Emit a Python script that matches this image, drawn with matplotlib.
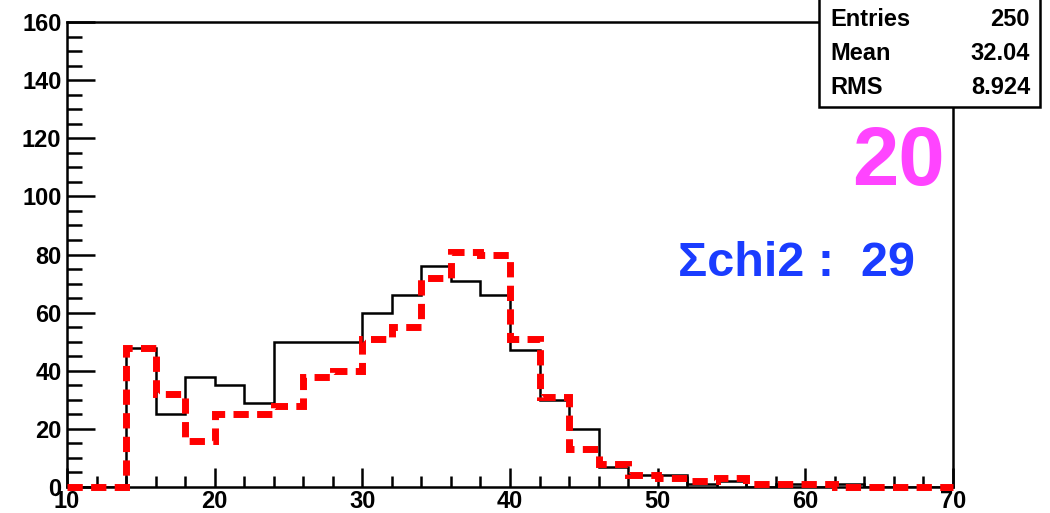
import numpy as np
import matplotlib
matplotlib.use("Agg")
import matplotlib.pyplot as plt
from matplotlib.patches import Rectangle
from matplotlib.ticker import MultipleLocator

plt.rcParams['font.family'] = ['Liberation Sans', 'DejaVu Sans']

# histogram bins (width 2 from 10 to 70)
edges = np.arange(10, 72, 2)
black_counts = [0, 0, 48, 25, 38, 35, 29, 50, 50, 50, 60, 66, 76, 71, 66,
                47, 30, 20, 7, 4, 4, 1, 2, 0, 1, 0, 1, 0, 0, 0]
red_counts = [0, 0, 48, 32, 16, 25, 25, 28, 38, 40, 51, 55, 72, 81, 80,
              51, 31, 13, 8, 4, 3, 2, 3, 1, 1, 1, 0, 0, 0, 0]

stats_labels = ["Entries", "Mean", "RMS"]
stats_values = ["250", "32.04", "8.924"]
big_number = "20"
chi2_text = "Σchi2 :  29"

fig = plt.figure(figsize=(10.5, 5.13), dpi=100)
ax = fig.add_axes([67 / 1050, 26 / 513, 886 / 1050, 465 / 513])

ax.stairs(black_counts, edges, baseline=None, color="black", lw=1.8, zorder=2)
ax.stairs(red_counts, edges, baseline=None, color="#ff0000", lw=5,
          linestyle=(0, (2.2, 1.2)), zorder=3, clip_on=False)

ax.set_xlim(10, 70)
ax.set_ylim(0, 160)
ax.xaxis.set_major_locator(MultipleLocator(10))
ax.xaxis.set_minor_locator(MultipleLocator(2))
ax.yaxis.set_major_locator(MultipleLocator(20))
ax.yaxis.set_minor_locator(MultipleLocator(5))
ax.tick_params(axis="y", which="major", direction="in", length=20, width=1.8, pad=4)
ax.tick_params(axis="y", which="minor", direction="in", length=11, width=1.8)
ax.tick_params(axis="x", which="major", direction="in", length=14, width=1.8, pad=2)
ax.tick_params(axis="x", which="minor", direction="in", length=8, width=1.8)
for lab in ax.get_xticklabels() + ax.get_yticklabels():
    lab.set_fontsize(17)
    lab.set_fontweight("bold")
for sp in ax.spines.values():
    sp.set_linewidth(1.8)

# stats box
fig.patches.append(Rectangle((819 / 1050, (513 - 107) / 513), 221 / 1050, 0.25,
                             transform=fig.transFigure, facecolor="white",
                             edgecolor="black", lw=1.8, zorder=5))
for i, (lab, val) in enumerate(zip(stats_labels, stats_values)):
    y = 1 - (20 + 34 * i) / 513
    fig.text(830 / 1050, y, lab, fontsize=17, fontweight="bold", va="center", ha="left", zorder=6)
    fig.text(1030 / 1050, y, val, fontsize=17, fontweight="bold", va="center", ha="right", zorder=6)

fig.text(945 / 1050, 1 - 163 / 513, big_number, fontsize=60, fontweight="bold",
         color="#ff44ff", ha="right", va="center")
fig.text(678 / 1050, 1 - 264 / 513, chi2_text, fontsize=35, fontweight="bold",
         color="#1a3cff", ha="left", va="center")

fig.savefig("out.png", dpi=100)
